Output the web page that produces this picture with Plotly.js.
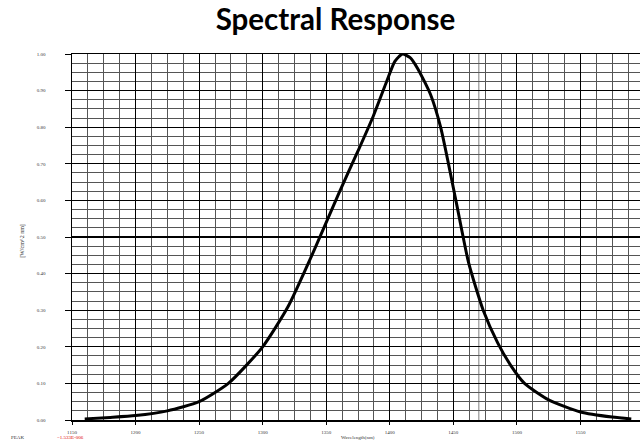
<!DOCTYPE html>
<html>
<head>
<meta charset="utf-8">
<script src="https://cdn.plot.ly/plotly-3.0.1.min.js"></script>
<style>html,body{margin:0;padding:0;overflow:hidden;background:#fff;}</style>
</head>
<body>
<div id="chart"></div>
<script>
// Data
const wavelength = [1160, 1180, 1200, 1225, 1250, 1273, 1300, 1320, 1340, 1360, 1375, 1387, 1397, 1404, 1410, 1416, 1422, 1432, 1440, 1452, 1462, 1473.5, 1485, 1495, 1506, 1525, 1550, 1575, 1590];
const response   = [0.003, 0.007, 0.012, 0.025, 0.05, 0.10, 0.20, 0.31, 0.46, 0.62, 0.735, 0.83, 0.92, 0.98, 1.0, 0.99, 0.96, 0.89, 0.80, 0.60, 0.43, 0.30, 0.21, 0.15, 0.10, 0.055, 0.022, 0.008, 0.003];
const xMinorTicks = [1162.5,1175,1187.5,1212.5,1225,1237.5,1262.5,1275,1287.5,1312.5,1325,1337.5,1362.5,1375,1387.5,1412.5,1425,1437.5,1462.5,1475,1487.5,1512.5,1525,1537.5,1562.5,1575,1587.5];
const xExtraGrid = [1470];
const xLabelTicks = [1150, 1200, 1250, 1300, 1350, 1400, 1450, 1500, 1550, 1600];
const yMinorTicks = [0.025,0.05,0.075,0.125,0.15,0.175,0.225,0.25,0.275,0.325,0.35,0.375,0.425,0.45,0.475,0.525,0.55,0.575,0.625,0.65,0.675,0.725,0.75,0.775,0.825,0.85,0.875,0.925,0.95,0.975];
const yLabelTicks = [0, 0.1, 0.2, 0.3, 0.4, 0.5, 0.6, 0.7, 0.8, 0.9, 1.0];
const yTickLabels = ['0.00','0.10','0.20','0.30','0.40','0.50','0.60','0.70','0.80','0.90','1.00'];

const curve = {
  x: wavelength, y: response, type: 'scatter', mode: 'lines', xaxis: 'x', yaxis: 'y',
  line: {color: '#000', width: 3, shape: 'spline', smoothing: 0.6},
  hoverinfo: 'skip'
};
// invisible trace to activate the minor-grid axes
const gridHolder = {x: [1150], y: [0], xaxis: 'x2', yaxis: 'y2', type: 'scatter', mode: 'markers',
  marker: {opacity: 0}, hoverinfo: 'skip'};

const shapes = xExtraGrid.map(v => ({
  type: 'line', xref: 'x', yref: 'paper', x0: v, x1: v, y0: 0, y1: 1,
  line: {color: '#aaa', width: 1.5}, layer: 'below'
}));

const tickFont = {family: 'Liberation Serif', size: 5, color: '#333'};

const layout = {
  width: 644, height: 441,
  margin: {l: 72, r: 0, t: 54, b: 21},
  paper_bgcolor: '#fff', plot_bgcolor: '#fff',
  showlegend: false,
  title: {text: '<b>Spectral Response</b>', x: 0.521, xanchor: 'center', y: 0.955, yanchor: 'middle',
          font: {family: 'Lato', size: 29.5, color: '#000'}},
  xaxis2: {
    range: [1150, 1600], tickmode: 'array', tickvals: xMinorTicks, showticklabels: false, ticks: '',
    showgrid: true, gridcolor: '#555', gridwidth: 1, zeroline: false, showline: false
  },
  yaxis2: {
    range: [0, 1], tickmode: 'array', tickvals: yMinorTicks, showticklabels: false, ticks: '',
    showgrid: true, gridcolor: '#555', gridwidth: 1, zeroline: false, showline: false
  },
  xaxis: {
    range: [1150, 1600], overlaying: 'x2', tickmode: 'array', tickvals: xLabelTicks, ticktext: xLabelTicks.map(String),
    tickfont: tickFont, ticks: 'outside', ticklen: 3, tickcolor: '#000', ticklabelstandoff: 3,
    showgrid: true, gridcolor: '#000', gridwidth: 1.2,
    showline: true, linecolor: '#000', linewidth: 1.5, mirror: true, zeroline: false
  },
  yaxis: {
    range: [0, 1], overlaying: 'y2', tickmode: 'array', tickvals: yLabelTicks, ticktext: yTickLabels,
    tickfont: tickFont, ticks: 'outside', ticklen: 6, tickcolor: '#000', ticklabelstandoff: 18,
    showgrid: true, gridcolor: '#000', gridwidth: 1.2,
    showline: true, linecolor: '#000', linewidth: 1.5, mirror: true, zeroline: false
  },
  shapes: shapes,
  annotations: [
    {text: '[W/cm^2 nm]', xref: 'paper', yref: 'paper', x: -0.095, y: 0.49, textangle: -90, showarrow: false,
     font: {family: 'Liberation Serif', size: 6, color: '#333'}},
    {text: 'Wavelength(nm)', xref: 'paper', yref: 'paper', x: 0.5, y: -0.048, showarrow: false,
     yanchor: 'middle', font: {family: 'Liberation Serif', size: 5, color: '#333'}},
    {text: 'PEAK', xref: 'paper', yref: 'paper', x: -0.11, y: -0.048, xanchor: 'left', showarrow: false,
     yanchor: 'middle', font: {family: 'Liberation Serif', size: 5, color: '#333'}},
    {text: '=1.533E-006', xref: 'paper', yref: 'paper', x: -0.03, y: -0.048, xanchor: 'left', showarrow: false,
     yanchor: 'middle', font: {family: 'Liberation Serif', size: 5, color: '#d00'}}
  ]
};

Plotly.newPlot('chart', [gridHolder, curve], layout, {displayModeBar: false, staticPlot: true});
</script>
</body>
</html>
